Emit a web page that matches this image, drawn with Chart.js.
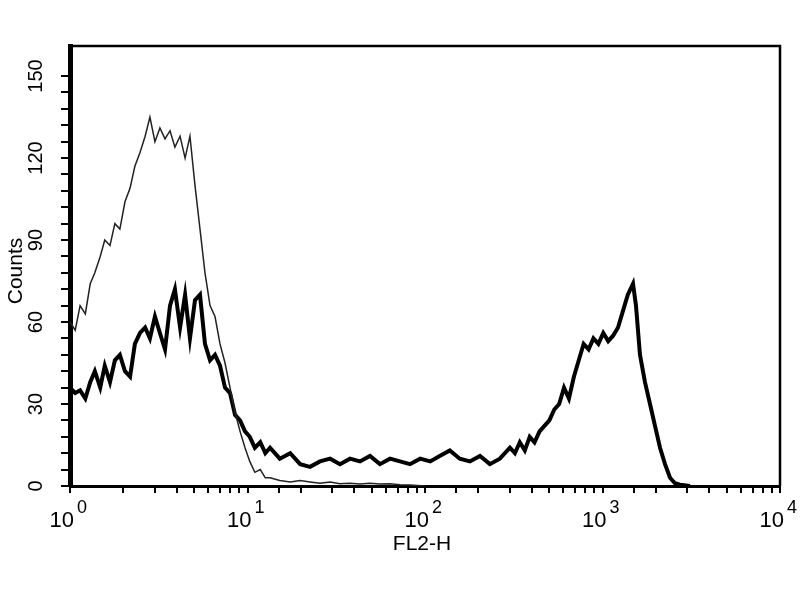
<!DOCTYPE html>
<html>
<head>
<meta charset="utf-8">
<script src="https://cdn.jsdelivr.net/npm/chart.js@4"></script>
<style>
  html, body { margin: 0; padding: 0; background: #fff; }
  #wrap { width: 800px; height: 600px; }
</style>
</head>
<body>
<div id="wrap"><canvas id="histo" width="800" height="600"></canvas></div>
<script>
// FL2-H channel (log scale) and counts
var ctrlX = [1.00, 1.07, 1.14, 1.22, 1.30, 1.38, 1.48, 1.57, 1.68, 1.79, 1.91, 2.04, 2.18, 2.32, 2.48, 2.65, 2.82, 3.01, 3.21, 3.43,
             3.66, 3.90, 4.17, 4.45, 4.74, 5.06, 5.40, 5.76, 6.15, 6.56, 7.00, 7.47, 7.97, 8.51, 9.08, 9.68, 10.3, 11.0, 11.8, 12.6,
             13.4, 15.2, 17.4, 19.8, 22.5, 25.6, 29.2, 33.2, 37.8, 43.0, 49.0, 55.7, 63.5, 72.3, 82.3, 100];
var ctrlY = [60, 57, 66, 63, 74, 78, 84, 90, 88, 96, 94, 104, 109, 117, 122, 128, 135, 126, 131, 127,
             130, 124, 128, 120, 128, 110, 94, 78, 66, 62, 52, 45, 36, 27, 20, 14, 9, 5, 6, 3,
             3, 2, 1.5, 2, 1.5, 1, 1.5, 0.8, 1, 0.7, 1, 0.7, 0.8, 0.5, 0.4, 0];

var stainX = [1.00, 1.07, 1.14, 1.22, 1.30, 1.38, 1.48, 1.57, 1.68, 1.79, 1.91, 2.04, 2.18, 2.32, 2.48, 2.65, 2.82, 3.01, 3.21, 3.43,
              3.66, 3.90, 4.17, 4.45, 4.74, 5.06, 5.40, 5.76, 6.15, 6.56, 7.00, 7.47, 7.97, 8.51, 9.08, 9.68, 10.3, 11.0, 11.8, 12.6,
              13.4, 15.2, 17.4, 19.8, 22.5, 25.6, 29.2, 33.2, 37.8, 43.0, 49.0, 55.7, 63.5, 72.3, 82.3, 93.9, 107, 121, 138, 157,
              179, 204, 232, 264, 301, 321, 342, 365, 389, 414, 442, 471, 502, 535, 570, 607, 647, 690, 735, 783,
              835, 889, 948, 1010, 1077, 1147, 1223, 1303, 1389, 1486, 1544, 1626, 1735, 1852, 1976, 2109, 2250, 2401, 2561, 2733, 3112];
var stainY = [36, 34, 35, 32, 38, 42, 36, 44, 38, 46, 48, 42, 40, 52, 56, 58, 54, 62, 56, 50,
              66, 72, 58, 70, 54, 68, 70, 52, 46, 48, 44, 36, 34, 26, 24, 20, 18, 14, 16, 12,
              14, 10, 12, 8, 7, 9, 10, 8, 10, 9, 11, 8, 10, 9, 8, 10, 9, 11, 13, 10,
              9, 11, 8, 10, 14, 12, 16, 13, 18, 16, 20, 22, 24, 28, 30, 36, 32, 40, 46, 52,
              50, 54, 52, 56, 53, 55, 58, 64, 70, 74, 66, 48, 38, 30, 22, 14, 8, 3, 1, 0.5, 0];

var xTickExponents = [0, 1, 2, 3, 4];
var yTickLabels = [0, 30, 60, 90, 120, 150];

function toPoints(xs, ys) {
  var pts = [];
  for (var i = 0; i < xs.length; i++) pts.push({ x: xs[i], y: ys[i] });
  return pts;
}

var fontFam = "'Liberation Sans', Arial, sans-serif";

// frame top/right + all the axis text (10 with raised exponent, rotated counts)
var textPlugin = {
  id: 'axisText',
  afterDraw: function (chart) {
    var a = chart.chartArea, c = chart.ctx;
    var xs = chart.scales.x, ys = chart.scales.y;
    c.save();
    c.strokeStyle = '#000';
    c.lineWidth = 2.5;
    c.beginPath();
    c.moveTo(a.left, a.top);
    c.lineTo(a.right, a.top);
    c.lineTo(a.right, a.bottom);
    c.stroke();

    c.fillStyle = '#000';
    // x tick labels
    xTickExponents.forEach(function (e) {
      var px = xs.getPixelForValue(Math.pow(10, e));
      c.font = '22px ' + fontFam;
      c.textAlign = 'right';
      c.textBaseline = 'alphabetic';
      c.fillText('10', px + 4, a.bottom + 41);
      c.font = '18px ' + fontFam;
      c.textAlign = 'left';
      c.fillText(String(e), px + 7, a.bottom + 27);
    });
    // y tick labels, rotated
    c.font = '20px ' + fontFam;
    c.textAlign = 'center';
    c.textBaseline = 'middle';
    yTickLabels.forEach(function (v) {
      var py = ys.getPixelForValue(v);
      c.save();
      c.translate(a.left - 34, py);
      c.rotate(-Math.PI / 2);
      c.fillText(String(v), 0, 0);
      c.restore();
    });
    // axis titles
    c.font = '21px ' + fontFam;
    c.textAlign = 'center';
    c.textBaseline = 'alphabetic';
    c.fillText('FL2-H', (a.left + a.right) / 2 - 3, a.bottom + 64);
    c.save();
    c.translate(a.left - 54, (a.top + a.bottom) / 2 + 5);
    c.rotate(-Math.PI / 2);
    c.textBaseline = 'middle';
    c.fillText('Counts', 0, 0);
    c.restore();
    c.restore();
  }
};

var ctx = document.getElementById('histo').getContext('2d');
var chart = new Chart(ctx, {
  type: 'line',
  data: {
    datasets: [
      {
        label: 'control',
        data: toPoints(ctrlX, ctrlY),
        borderColor: '#222',
        borderWidth: 1.5,
        pointRadius: 0,
        tension: 0,
        fill: false
      },
      {
        label: 'stained',
        data: toPoints(stainX, stainY),
        borderColor: '#000',
        borderWidth: 4,
        pointRadius: 0,
        tension: 0,
        fill: false
      }
    ]
  },
  options: {
    responsive: false,
    animation: false,
    layout: { padding: { top: 46, right: 20, left: 0, bottom: 0 } },
    plugins: { legend: { display: false }, tooltip: { enabled: false } },
    scales: {
      x: {
        type: 'logarithmic',
        min: 1,
        max: 10000,
        border: { display: true, color: '#000', width: 3 },
        grid: { drawOnChartArea: false, drawTicks: true, tickLength: 7, color: '#000', lineWidth: 2 },
        ticks: { display: false, autoSkip: false },
        afterFit: function (s) { s.height = 114; }
      },
      y: {
        min: 0,
        max: 161,
        border: { display: true, color: '#000', width: 5 },
        grid: { drawOnChartArea: false, drawTicks: true, tickLength: 9, color: '#000', lineWidth: 2 },
        afterBuildTicks: function (s) {
          s.ticks = s.ticks.filter(function (t) { return t.value % 6 === 0; });
        },
        ticks: { display: false, stepSize: 6, autoSkip: false },
        afterFit: function (s) { s.width = 70; }
      }
    }
  },
  plugins: [textPlugin]
});
</script>
</body>
</html>
